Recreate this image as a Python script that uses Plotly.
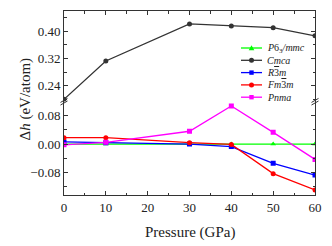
import plotly.graph_objects as go

pressure = [0, 10, 30, 40, 50, 60]
p63mmc = [0.0, 0.0, 0.0, 0.0, 0.0, 0.0]
cmca = [0.200, 0.313, 0.422, 0.416, 0.411, 0.387]
r3m = [0.006, 0.004, 0.000, -0.007, -0.054, -0.087]
fm3m = [0.018, 0.018, 0.004, -0.001, -0.083, -0.129]
pnma = [-0.002, 0.005, 0.036, 0.107, 0.033, -0.043]

OV = "<span style='text-decoration:overline'>3</span>"
names = ["<i>P</i>6<sub>3</sub><i>/mmc</i>", "<i>Cmca</i>", "<i>R</i>" + OV + "<i>m</i>",
         "<i>Fm</i>" + OV + "<i>m</i>", "<i>Pnma</i>"]
colors = ["#00ff00", "#333333", "#0000ff", "#ff0000", "#ff00ff"]
symbols = ["triangle-up", "circle", "square", "circle", "square"]

FONT = "Liberation Serif"
L, R, T, B, W, H = 64, 17, 11, 51, 332, 246
PW, PH = W - L - R, H - T - B

fig = go.Figure()
series = [p63mmc, cmca, r3m, fm3m, pnma]
for i, (vals, nm, col, sym) in enumerate(zip(series, names, colors, symbols)):
    top = (i == 1)
    fig.add_trace(go.Scatter(
        x=pressure, y=vals, name=nm, mode="lines+markers",
        line=dict(color=col, width=1.3),
        marker=dict(color=col, symbol=sym, size=5),
        xaxis="x2" if top else "x", yaxis="y2" if top else "y",
        showlegend=False,
    ))

split = 0.507
axfont = dict(family=FONT, size=13, color="#222")
common_y = dict(showline=True, linecolor="#333", linewidth=1, mirror="ticks",
                ticks="inside", ticklen=4, tickcolor="#333", tickfont=axfont,
                showgrid=False, zeroline=False, tickformat=".2f", dtick=0.08,
                minor=dict(ticks="inside", ticklen=2.5, tickcolor="#333", dtick=0.04))
common_x = dict(showline=True, linecolor="#333", linewidth=1, ticks="inside",
                ticklen=4, tickcolor="#333", range=[0, 60], dtick=10,
                showgrid=False, zeroline=False,
                minor=dict(ticks="inside", ticklen=2.5, tickcolor="#333", dtick=5))

fig.update_layout(
    width=W, height=H,
    margin=dict(l=L, r=R, t=T, b=B, autoexpand=False),
    paper_bgcolor="white", plot_bgcolor="white",
    font=dict(family=FONT, color="#222"),
    xaxis=dict(anchor="y", tickfont=axfont, **common_x),
    xaxis2=dict(anchor="y2", side="top", matches="x", showticklabels=False,
                overlaying="x", **common_x),
    yaxis=dict(domain=[0, split], range=[-0.143, 0.119], tick0=0, **common_y),
    yaxis2=dict(domain=[split, 1], range=[0.193, 0.460], tick0=0.24, **common_y),
    showlegend=False,
)

fig.add_annotation(text="\u0394<i>h</i> (eV/atom)", xref="paper", yref="paper",
                   x=(14 - L) / PW, y=(H - B - 99) / PH, textangle=-90, showarrow=False,
                   font=dict(family=FONT, size=15, color="#222"))
fig.add_annotation(text="Pressure (GPa)", xref="paper", yref="paper",
                   x=0.5, y=(H - B - 232.7) / PH, yanchor="middle", showarrow=False,
                   font=dict(family=FONT, size=15, color="#222"))

# axis break marks
for xa in (0, 1):
    for off in (-1.3, 1.3):
        fig.add_shape(type="line", xref="paper", yref="paper",
                      xsizemode="pixel", ysizemode="pixel", xanchor=xa, yanchor=split,
                      x0=-3.5, x1=3.5, y0=off - 2, y1=off + 2,
                      line=dict(color="#333", width=1))

# legend (drawn as a compact key)
row_y = [48, 60.3, 72.6, 84.9, 97.2]
lx0, lx1, tx = 241, 262, 265
for nm, col, sym, yy in zip(names, colors, symbols, row_y):
    py = -(yy - T)
    fig.add_shape(type="line", xref="paper", yref="paper", xsizemode="pixel",
                  ysizemode="pixel", xanchor=0, yanchor=1,
                  x0=lx0 - L, x1=lx1 - L, y0=py, y1=py,
                  line=dict(color=col, width=1.3))
    cx = (lx0 + lx1) / 2 - L
    if sym == "circle":
        fig.add_shape(type="circle", xref="paper", yref="paper", xsizemode="pixel",
                      ysizemode="pixel", xanchor=0, yanchor=1,
                      x0=cx - 2.5, x1=cx + 2.5, y0=py - 2.5, y1=py + 2.5,
                      fillcolor=col, line=dict(width=0))
    elif sym == "square":
        fig.add_shape(type="rect", xref="paper", yref="paper", xsizemode="pixel",
                      ysizemode="pixel", xanchor=0, yanchor=1,
                      x0=cx - 2.2, x1=cx + 2.2, y0=py - 2.2, y1=py + 2.2,
                      fillcolor=col, line=dict(width=0))
    else:
        fig.add_shape(type="path", xref="paper", yref="paper", xsizemode="pixel",
                      ysizemode="pixel", xanchor=0, yanchor=1,
                      path=f"M{cx-2.8},{py-2.2} L{cx+2.8},{py-2.2} L{cx},{py+2.8} Z",
                      fillcolor=col, line=dict(width=0))
    fig.add_annotation(text=nm, xref="paper", yref="paper",
                       x=(tx - L) / PW, y=(H - B - yy) / PH, xanchor="left",
                       yanchor="middle", showarrow=False,
                       font=dict(family=FONT, size=10, color="#222"))

fig.write_html("out.html", config={"displayModeBar": False},
               post_script="document.body.style.margin='0';document.body.style.overflow='hidden';")
